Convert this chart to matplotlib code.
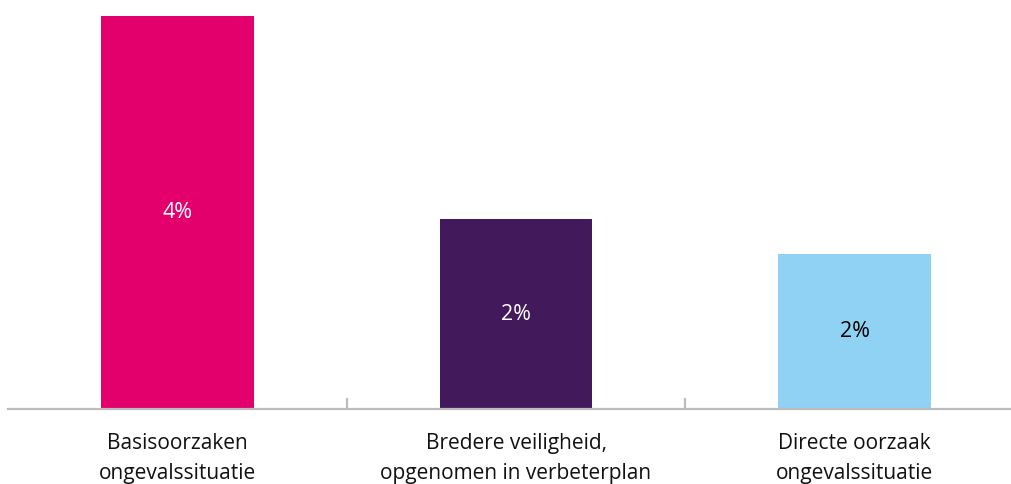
import matplotlib
matplotlib.use("Agg")
import matplotlib.pyplot as plt

categories = ["Basisoorzaken\nongevalssituatie",
              "Bredere veiligheid,\nopgenomen in verbeterplan",
              "Directe oorzaak\nongevalssituatie"]
values = [4.0, 1.93, 1.58]
labels = ["4%", "2%", "2%"]
colors = ["#E3006D", "#42195B", "#8FD2F4"]
text_colors = ["white", "white", "black"]

plt.rcParams['font.family'] = ['Open Sans', 'DejaVu Sans']

fig = plt.figure(figsize=(10.11, 4.84), dpi=100)
W, H = 1011, 484
left_px, right_px = 8, 1024
bottom_px, top_px = 409, 16
ax = fig.add_axes([left_px / W, (H - bottom_px) / H,
                   (right_px - left_px) / W, (bottom_px - top_px) / H])

x = list(range(len(categories)))
ax.bar(x, values, width=0.45, color=colors, zorder=2)
for xi, v, lab, tc in zip(x, values, labels, text_colors):
    ax.text(xi, v / 2, lab, ha="center", va="center", color=tc, fontsize=15.5)

ax.set_xlim(-0.5, 2.5)
ax.set_ylim(0, 4.0)
ax.set_yticks([])
for s in ["top", "right", "left"]:
    ax.spines[s].set_visible(False)
ax.spines["bottom"].set_color("#BBBBBB")
ax.spines["bottom"].set_linewidth(1.6)

ax.set_xticks(x)
ax.set_xticklabels(categories, fontsize=15, color="#111111", linespacing=1.58)
ax.tick_params(axis="x", which="major", length=0, pad=17)
ax.set_xticks([0.5, 1.5], minor=True)
ax.tick_params(axis="x", which="minor", direction="in", length=8,
               width=1.6, color="#BBBBBB")

fig.savefig("out.png", dpi=100)
